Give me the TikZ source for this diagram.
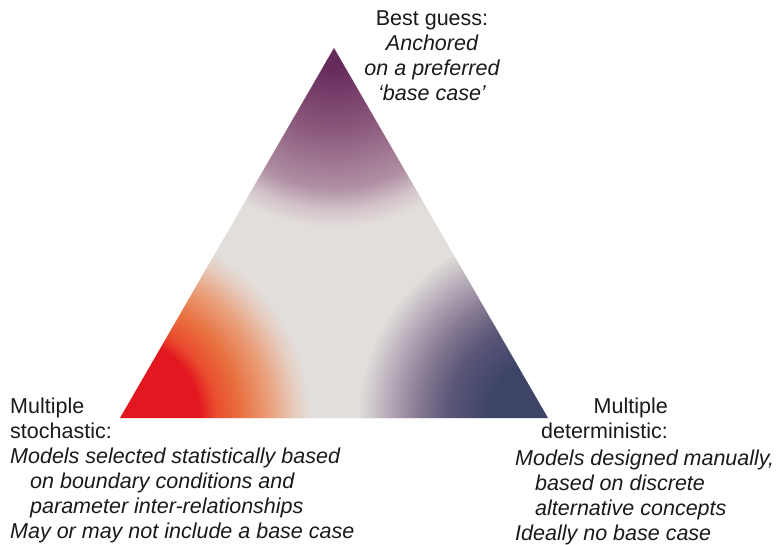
\documentclass[tikz,border=0pt]{standalone}
\usepackage{fontspec}
\setmainfont{Liberation Sans}
\usepackage{xcolor}
\usepackage{tikz}
\definecolor{paper}{HTML}{FFFFFF}
\definecolor{ink}{HTML}{1A1A1A}
\definecolor{mist}{HTML}{E2DEDB}
\definecolor{plum}{HTML}{662B5B}
\definecolor{plumA}{HTML}{8C5A7E}
\definecolor{plumB}{HTML}{B08FA3}
\definecolor{plumC}{HTML}{D3C3CA}
\definecolor{scarlet}{HTML}{E3171F}
\definecolor{scarletA}{HTML}{E94B2E}
\definecolor{scarletB}{HTML}{E9703F}
\definecolor{scarletC}{HTML}{EAA07C}
\definecolor{scarletD}{HTML}{E6CCBF}
\definecolor{navy}{HTML}{3D4468}
\definecolor{navyA}{HTML}{5B5678}
\definecolor{navyB}{HTML}{857A92}
\definecolor{navyC}{HTML}{B5AAB8}
% corner glows, 25bp = circle radius
\pgfdeclareradialshading{topglow}{\pgfpointorigin}{color(0bp)=(plum); color(2.8bp)=(plum);
  color(11.8bp)=(plumA); color(19.4bp)=(plumB); color(22.5bp)=(plumC); color(25bp)=(mist); color(50bp)=(mist)}
\pgfdeclareradialshading{leftglow}{\pgfpointorigin}{color(0bp)=(scarlet); color(10.5bp)=(scarlet);
  color(12.5bp)=(scarletA); color(15.75bp)=(scarletB); color(19.75bp)=(scarletC); color(23bp)=(scarletD); color(25bp)=(mist); color(50bp)=(mist)}
\pgfdeclareradialshading{rightglow}{\pgfpointorigin}{color(0bp)=(navy); color(7.9bp)=(navy);
  color(13.15bp)=(navyA); color(17.1bp)=(navyB); color(21.05bp)=(navyC); color(25bp)=(mist); color(50bp)=(mist)}
\tikzset{
  lab/.style={text=ink, inner sep=0pt, font=\fontsize{21.5}{25}\selectfont},
}

\begin{document}
\begin{tikzpicture}[x=1pt,y=-1pt]
  \useasboundingbox[fill=paper] (0,0) rectangle (776,545);
  \coordinate (apex) at (334,48);
  \coordinate (lcorner) at (120,418);
  \coordinate (rcorner) at (548,418);

  \begin{scope}
    \clip (apex)--(lcorner)--(rcorner)--cycle;
    \fill[mist] (100,40) rectangle (570,420);
    \shade[shading=topglow] (apex) circle (180);
    \shade[shading=leftglow] (lcorner) circle (190);
    \shade[shading=rightglow] (rcorner) circle (190);
  \end{scope}

  \node[lab, align=center, anchor=north] (best) at (432,11)
    {Best guess:\\ \itshape Anchored\\ \itshape on a preferred\\ \itshape `base case'};
  \node[lab, align=left, anchor=north west] (stoch) at (10,398)
    {Multiple\\ stochastic:\\
     \itshape Models selected statistically based\\
     \hspace*{20pt}\itshape on boundary conditions and\\
     \hspace*{20pt}\itshape parameter inter-relationships\\
     \itshape May or may not include a base case};
  \node[lab, align=right, anchor=north east] (detHead) at (668,398)
    {Multiple\\ deterministic:};
  \node[lab, align=left, anchor=north west] (detBody) at (515,450)
    {\itshape Models designed manually,\\
     \hspace*{20pt}\itshape based on discrete\\
     \hspace*{20pt}\itshape alternative concepts\\
     \itshape Ideally no base case};
\end{tikzpicture}
\end{document}
